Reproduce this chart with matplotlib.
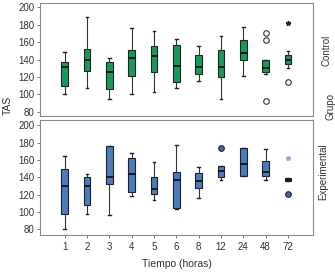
import matplotlib
matplotlib.use('Agg')
import matplotlib.pyplot as plt

plt.rcParams['font.family'] = ['Liberation Sans', 'DejaVu Sans']
plt.rcParams['font.size'] = 7

tiempos = ['1', '2', '3', '4', '5', '6', '8', '12', '24', '48', '72']

# grupo control
ctrl_whislo = [100.5, 107.5, 94.5, 100.5, 102.5, 107, 115.5, 95, 121, 123, 130.5]
ctrl_q1 = [110, 126.5, 106, 120.5, 125.5, 114.5, 123.5, 120, 139, 125.5, 134.5]
ctrl_med = [131, 139, 126, 142, 143.5, 132, 131, 131.5, 148, 130.5, 139]
ctrl_q3 = [137.5, 152.5, 137.5, 150.5, 155, 156.5, 145, 151.5, 163, 139, 145.5]
ctrl_whishi = [148.5, 189, 142, 176.5, 172.5, 164, 155.5, 167, 177, 139, 150]
ctrl_fliers = [[], [], [], [], [], [], [], [], [], [171, 162, 92], [114]]
ctrl_extremos = [[], [], [], [], [], [], [], [], [], [], [182]]

# grupo experimental
exp_whislo = [80.5, 97.5, 97, 118, 114, 104, 116, 137, 141.5, 136.5, 135.5]
exp_q1 = [98, 107.5, 132.5, 123, 120.5, 104.5, 128, 140.5, 141.5, 141, 135.5]
exp_med = [130, 130, 140.5, 143.5, 126.5, 136.5, 135.5, 147, 155, 146, 137]
exp_q3 = [150, 140.5, 176, 162, 140, 146, 144.5, 152.5, 174, 158.5, 139]
exp_whishi = [164, 143.5, 176, 168, 158, 177, 151.5, 152.5, 174, 173, 139]
exp_fliers = [[], [], [], [], [], [], [], [174], [], [], [121]]
exp_extremos = [[], [], [], [], [], [], [], [], [], [], [162]]


def make_stats(lo, q1, med, q3, hi, fl):
    stats = []
    for i in range(len(tiempos)):
        stats.append({'whislo': lo[i], 'q1': q1[i], 'med': med[i], 'q3': q3[i],
                      'whishi': hi[i], 'fliers': fl[i], 'label': tiempos[i]})
    return stats


def draw_panel(ax, stats, color, flierprops, extremos, star_color):
    pos = list(range(1, len(tiempos) + 1))
    ax.bxp(stats, positions=pos, widths=0.3, capwidths=0.12, patch_artist=True,
           boxprops=dict(facecolor=color, edgecolor='#222222', linewidth=0.8),
           medianprops=dict(color='#111111', linewidth=1.3),
           whiskerprops=dict(color='#333333', linewidth=0.8),
           capprops=dict(color='#222222', linewidth=1.0),
           flierprops=flierprops)
    for i, vals in enumerate(extremos):
        for v in vals:
            ax.plot(pos[i], v, marker='*', color=star_color, markersize=3.5, linestyle='none')
    ax.set_xlim(-0.1, 12.12)
    ax.set_yticks([80, 100, 120, 140, 160, 180, 200])
    for s in ax.spines.values():
        s.set_color('#8a8a8a')
        s.set_linewidth(0.8)
    ax.tick_params(axis='y', length=2.5, width=0.6, color='#666666', pad=1.5, labelcolor='#333333')
    ax.tick_params(axis='x', length=2.5, width=0.6, color='#666666', pad=2.5, labelcolor='#333333')


fig = plt.figure(figsize=(3.35, 2.72), dpi=100)
ax1 = fig.add_axes([40 / 335, 1 - 116.5 / 272, 273 / 335, 113.5 / 272])
ax2 = fig.add_axes([40 / 335, 1 - 235 / 272, 273 / 335, 115 / 272])

draw_panel(ax1, make_stats(ctrl_whislo, ctrl_q1, ctrl_med, ctrl_q3, ctrl_whishi, ctrl_fliers),
           '#169a5a',
           dict(marker='o', markerfacecolor='none', markeredgecolor='#333333',
                markersize=4, markeredgewidth=0.8),
           ctrl_extremos, '#222222')
draw_panel(ax2, make_stats(exp_whislo, exp_q1, exp_med, exp_q3, exp_whishi, exp_fliers),
           '#4a7bbf',
           dict(marker='o', markerfacecolor='#3f6aa8', markeredgecolor='#1f2f4f',
                markersize=4, markeredgewidth=0.9),
           exp_extremos, '#8aaee0')

ax1.set_ylim(74.5, 205)
ax2.set_ylim(73.5, 206)
ax1.set_xticks([])

fig.text(8 / 335, 1 - 105 / 272, 'TAS', rotation=90, ha='center', va='center', fontsize=7.5, color='#333333')
fig.text(327 / 335, 1 - 50 / 272, 'Control', rotation=90, ha='center', va='center', color='#333333')
fig.text(323 / 335, 1 - 172 / 272, 'Experimental', rotation=90, ha='center', va='center', color='#333333')
fig.text(330 / 335, 1 - 107 / 272, 'Grupo', rotation=90, ha='center', va='center', color='#333333')
fig.text(177 / 335, 1 - 264 / 272, 'Tiempo (horas)', ha='center', va='center', fontsize=7.5, color='#333333')

fig.savefig('out.png', dpi=100)
